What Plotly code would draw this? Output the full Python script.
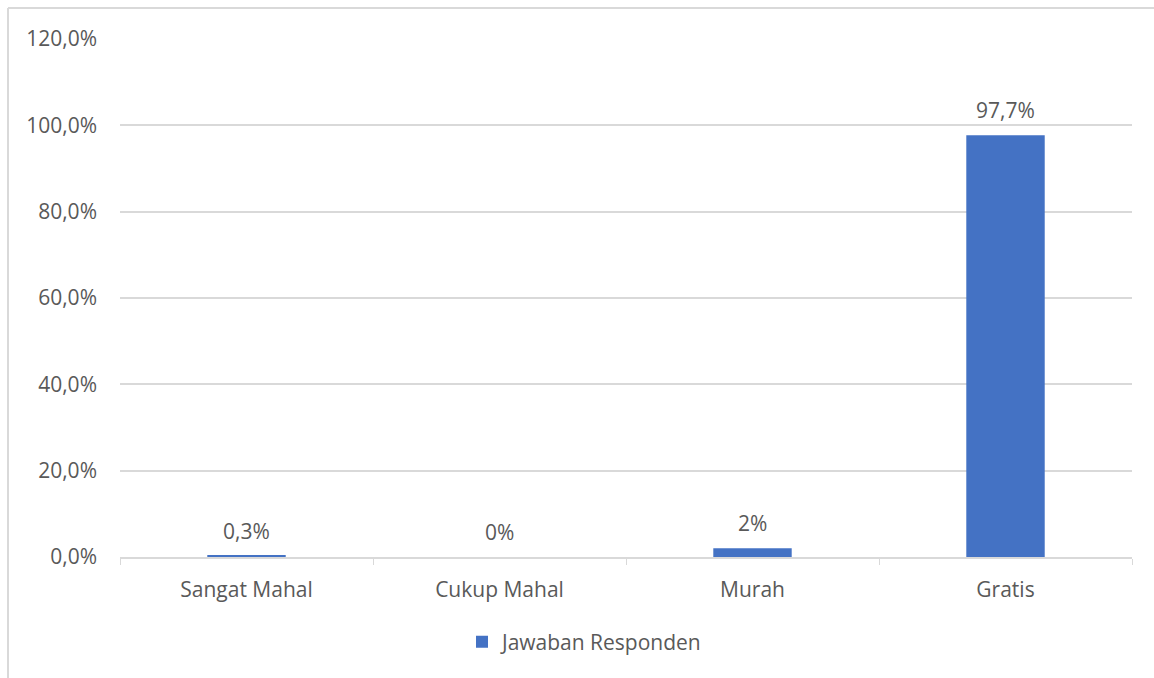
import plotly.graph_objects as go

categories = ["Sangat Mahal", "Cukup Mahal", "Murah", "Gratis"]
values = [0.3, 0.0, 2.0, 97.7]
value_labels = ["0,3%", "0%", "2%", "97,7%"]
y_ticks = [0, 20, 40, 60, 80, 100, 120]
y_tick_labels = ["0,0%", "20,0%", "40,0%", "60,0%", "80,0%", "100,0%", "120,0%"]
series_name = "Jawaban Responden"

W, H = 1154, 678
L, R, T, B = 120, 22, 39, 121
pw, ph = W - L - R, H - T - B

def px_x(p):
    return (p - L) / pw

def px_y(p):
    return (H - B - p) / ph

font_color = "#595959"
grid_color = "#d9d9d9"
FS = 21

fig = go.Figure()
fig.add_trace(go.Bar(
    x=categories, y=values, name=series_name,
    marker=dict(color="#4472c4", line=dict(width=0)),
    width=0.31,
))

annotations = [
    dict(x=c, y=v, xref="x", yref="y", text=t, showarrow=False,
         yanchor="middle", yshift=25, font=dict(size=FS, color=font_color))
    for c, v, t in zip(categories, values, value_labels)
]

fig.update_layout(
    width=W, height=H,
    margin=dict(l=L, r=R, t=T, b=B, pad=0),
    paper_bgcolor="white", plot_bgcolor="white",
    font=dict(family="Open Sans", size=FS, color=font_color),
    showlegend=True,
    legend=dict(orientation="h", x=px_x(462), xanchor="left",
                y=px_y(642), yanchor="middle",
                font=dict(size=FS, color=font_color),
                itemwidth=30, bgcolor="rgba(0,0,0,0)"),
    annotations=annotations,
    shapes=[
        dict(type="line", xref="paper", yref="paper",
             x0=px_x(8), x1=px_x(8), y0=px_y(8), y1=px_y(H + 5),
             line=dict(color=grid_color, width=2)),
        dict(type="line", xref="paper", yref="paper",
             x0=px_x(8), x1=px_x(W + 5), y0=px_y(8), y1=px_y(8),
             line=dict(color=grid_color, width=2)),
    ],
)

fig.update_xaxes(
    type="category", showgrid=False, showline=True, linecolor=grid_color, linewidth=2,
    ticks="outside", tickson="boundaries", ticklen=6, tickcolor=grid_color,
    tickfont=dict(size=FS, color=font_color), ticklabelstandoff=13,
)
fig.update_yaxes(
    range=[0, 120], tickvals=y_ticks, ticktext=y_tick_labels,
    showgrid=True, gridcolor=grid_color, gridwidth=1.5,
    zeroline=False, showline=False, ticks="",
    tickfont=dict(size=FS, color=font_color), ticklabelstandoff=22,
)

fig.write_html("out.html")
